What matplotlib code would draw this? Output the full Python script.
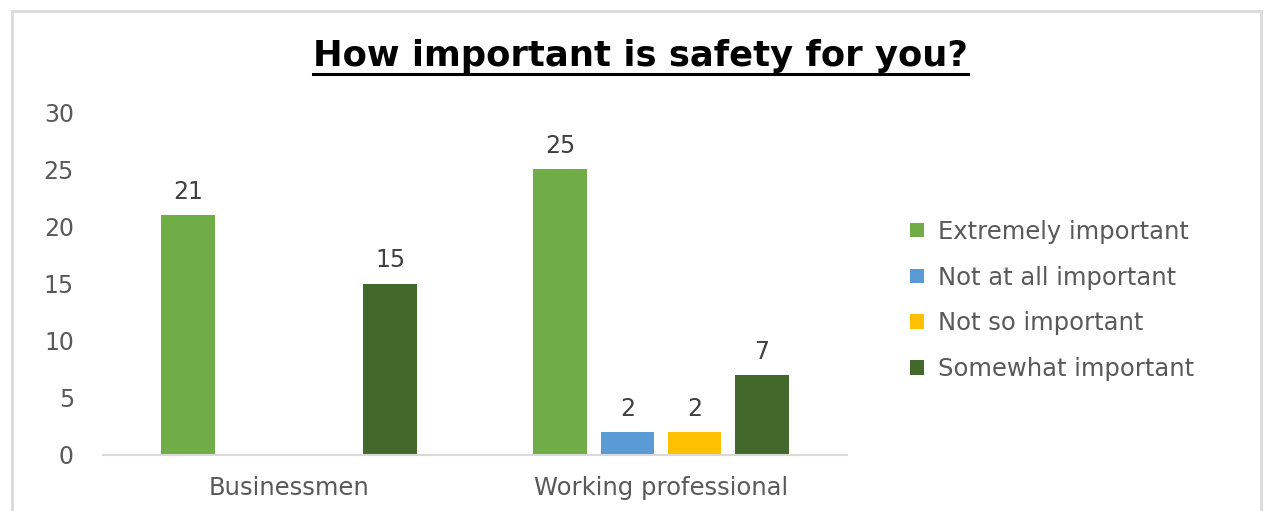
import numpy as np
import matplotlib.pyplot as plt
from matplotlib.patches import Rectangle
from matplotlib.lines import Line2D

plt.rcParams['font.family'] = ['DejaVu Sans']

# survey answers per respondent group
groups = ['Businessmen', 'Working professional']
answers = ['Extremely important', 'Not at all important',
           'Not so important', 'Somewhat important']
extremely = [21, 25]
not_at_all = [np.nan, 2]
not_so = [np.nan, 2]
somewhat = [15, 7]
colors = ['#70AD47', '#5B9BD5', '#FFC000', '#43682B']

series = [extremely, not_at_all, not_so, somewhat]

fig = plt.figure(figsize=(12.69, 5.11), dpi=100)
ax = fig.add_axes([0.0812, 0.1096, 0.5863, 0.6712])

x = np.arange(len(groups))
step = 0.181
width = 0.143
for i, (vals, name, c) in enumerate(zip(series, answers, colors)):
    pos = x + (i - 1.5) * step
    bars = ax.bar(pos, vals, width=width, color=c, label=name)
    for b, v in zip(bars, vals):
        if np.isnan(v):
            continue
        ax.annotate(f'{v:g}', (b.get_x() + b.get_width() / 2, v),
                    xytext=(0, 8), textcoords='offset points',
                    ha='center', va='bottom', fontsize=17, color='#404040')

ax.set_xlim(-0.5, 1.5)
ax.set_ylim(0, 30)
ax.set_yticks(range(0, 31, 5))
ax.set_xticks(x)
ax.set_xticklabels(groups)
for s in ['top', 'right', 'left']:
    ax.spines[s].set_visible(False)
ax.spines['bottom'].set_color('#d9d9d9')
ax.spines['bottom'].set_linewidth(1.5)
ax.tick_params(axis='y', length=0, pad=21, labelsize=17, labelcolor='#595959')
ax.tick_params(axis='x', length=0, pad=15, labelsize=17.5, labelcolor='#595959')

handles, labels = ax.get_legend_handles_labels()
leg = fig.legend(handles, labels, loc='center left',
                 bbox_to_anchor=(0.7, 0.412), frameon=False,
                 fontsize=17.5, handlelength=0.55, handleheight=0.55,
                 handletextpad=0.6, labelspacing=0.9)
for t in leg.get_texts():
    t.set_color('#595959')

title = fig.text(0.505, 0.89, 'How important is safety for you?',
                 ha='center', va='center', fontsize=25.5, fontweight='bold',
                 color='black')

# underline the title
fig.canvas.draw()
bb = title.get_window_extent().transformed(fig.transFigure.inverted())
fig.add_artist(Line2D([bb.x0, bb.x1], [bb.y0 - 0.002, bb.y0 - 0.002],
                      transform=fig.transFigure, color='black', lw=2.2))

# chart frame
fig.add_artist(Rectangle((0.0095, -0.05), 0.984, 1.028,
                         transform=fig.transFigure, fill=False,
                         edgecolor='#d9d9d9', lw=2))

fig.savefig('out.png', dpi=100)
